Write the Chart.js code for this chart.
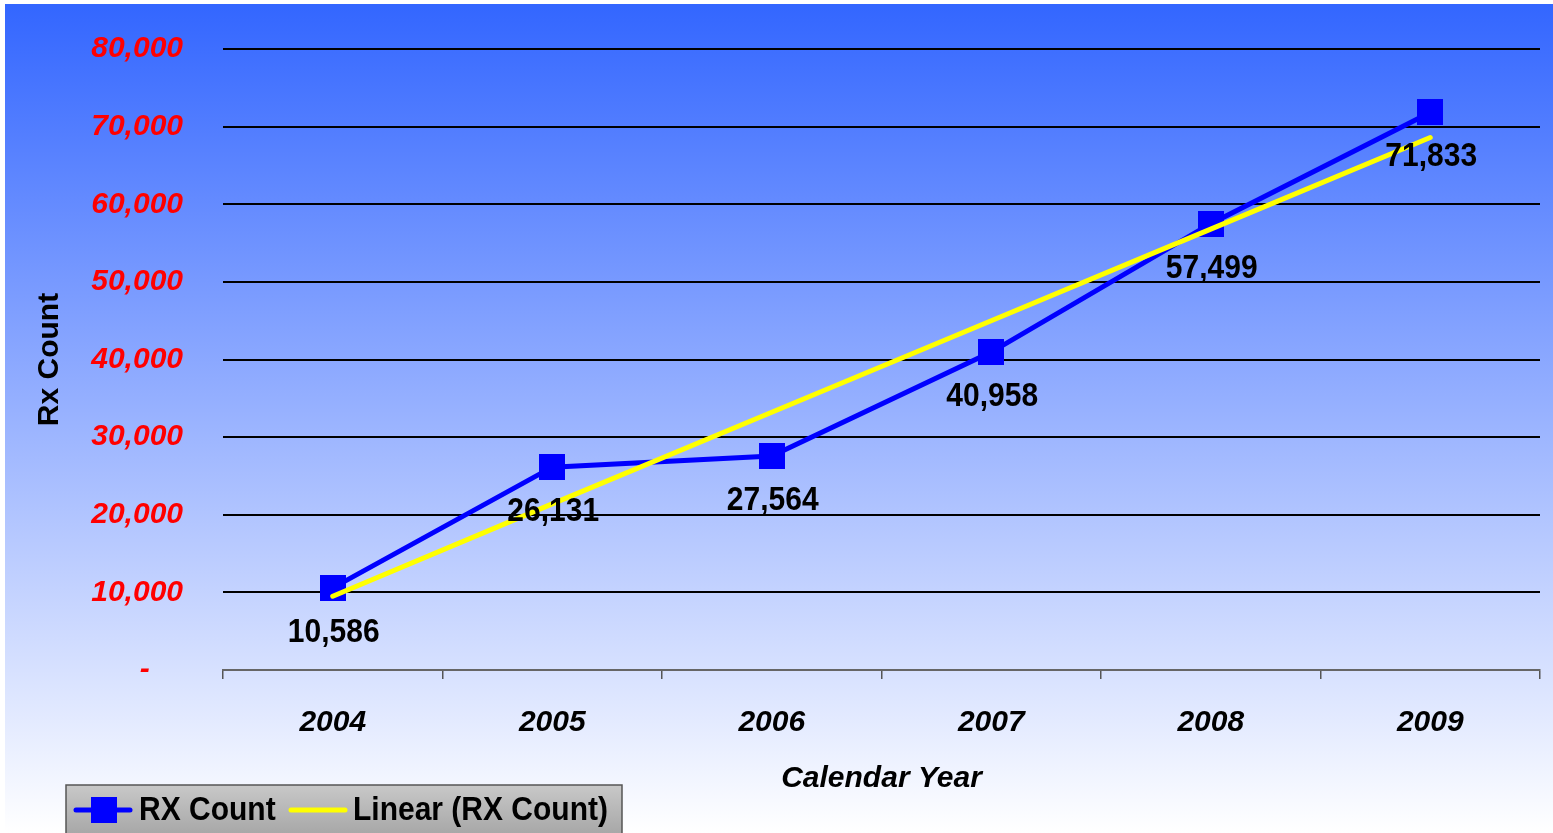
<!DOCTYPE html>
<html>
<head>
<meta charset="utf-8">
<script src="https://cdn.jsdelivr.net/npm/chart.js@4"></script>
<style>
  html, body { margin: 0; padding: 0; background: #ffffff; }
  canvas { display: block; }
</style>
</head>
<body>
<canvas id="c" width="1553" height="833"></canvas>
<script>
const years = ['2004', '2005', '2006', '2007', '2008', '2009'];
const rxCount = [10586, 26131, 27564, 40958, 57499, 71833];
const linearTrend = [9500, 21400, 33200, 45000, 56800, 68600];
const yTickValues = [0, 10000, 20000, 30000, 40000, 50000, 60000, 70000, 80000];
const seriesNames = ['RX Count', 'Linear (RX Count)'];
const axisTitles = { x: 'Calendar Year', y: 'Rx Count' };

const FONT = '"Liberation Sans", Arial, Helvetica, sans-serif';

// square marker image (26 x 26)
const squareMarker = document.createElement('canvas');
squareMarker.width = 26; squareMarker.height = 26;
(function () {
  const c = squareMarker.getContext('2d');
  c.fillStyle = '#0000ff';
  c.fillRect(0, 0, 26, 26);
})();

const bgPlugin = {
  id: 'bg',
  beforeDraw(chart) {
    const ctx = chart.ctx;
    ctx.save();
    ctx.fillStyle = '#ffffff';
    ctx.fillRect(0, 0, chart.width, chart.height);
    const g = ctx.createLinearGradient(0, 4, 0, chart.height);
    g.addColorStop(0, '#3366ff');
    g.addColorStop(1, '#ffffff');
    ctx.fillStyle = g;
    ctx.fillRect(5, 4, chart.width - 5, chart.height - 4);
    ctx.restore();
  }
};

function tallText(ctx, text, x, y, sy) {
  ctx.save();
  ctx.translate(x, y);
  ctx.scale(1, sy);
  ctx.fillText(text, 0, 0);
  ctx.restore();
}

const labelPlugin = {
  id: 'dataLabels',
  afterDatasetsDraw(chart) {
    const ctx = chart.ctx;
    const meta = chart.getDatasetMeta(0);
    ctx.save();
    ctx.font = 'bold 30px ' + FONT;
    ctx.fillStyle = '#000000';
    ctx.textAlign = 'center';
    ctx.textBaseline = 'middle';
    meta.data.forEach((pt, i) => {
      tallText(ctx, rxCount[i].toLocaleString('en-US'), pt.x + 1, pt.y + 45, 1.08);
    });
    ctx.restore();
  }
};

const legendPlugin = {
  id: 'customLegend',
  afterDraw(chart) {
    const ctx = chart.ctx;
    ctx.save();
    const x = 66, y = 785, w = 556, h = 60;
    const g = ctx.createLinearGradient(0, y, 0, y + 48);
    g.addColorStop(0, '#c8c8c8');
    g.addColorStop(1, '#a8a8a8');
    ctx.fillStyle = g;
    ctx.fillRect(x, y, w, h);
    ctx.strokeStyle = '#555555';
    ctx.lineWidth = 1.5;
    ctx.strokeRect(x, y, w, h);
    const cy = 810;
    ctx.strokeStyle = '#0000ff';
    ctx.lineWidth = 5;
    ctx.lineCap = 'round';
    ctx.beginPath(); ctx.moveTo(76, cy); ctx.lineTo(130, cy); ctx.stroke();
    ctx.fillStyle = '#0000ff';
    ctx.fillRect(91, cy - 13, 26, 26);
    ctx.font = 'bold 30px ' + FONT;
    ctx.fillStyle = '#000000';
    ctx.textAlign = 'left';
    ctx.textBaseline = 'middle';
    tallText(ctx, chart.data.datasets[0].label, 139, cy + 1, 1.08);
    ctx.strokeStyle = '#ffff00';
    ctx.beginPath(); ctx.moveTo(291, cy); ctx.lineTo(345, cy); ctx.stroke();
    tallText(ctx, chart.data.datasets[1].label, 353, cy + 1, 1.08);
    ctx.restore();
  }
};

new Chart(document.getElementById('c'), {
  type: 'line',
  data: {
    labels: years,
    datasets: [
      {
        label: seriesNames[0],
        data: rxCount,
        borderColor: '#0000ff',
        backgroundColor: '#0000ff',
        borderWidth: 5,
        pointStyle: squareMarker,
        pointRadius: 13,
        pointHoverRadius: 13,
        pointBorderWidth: 0,
        tension: 0,
        order: 1
      },
      {
        label: seriesNames[1],
        data: linearTrend,
        borderColor: '#ffff00',
        backgroundColor: '#ffff00',
        borderWidth: 5,
        borderCapStyle: 'round',
        pointRadius: 0,
        pointHoverRadius: 0,
        tension: 0,
        order: 0
      }
    ]
  },
  options: {
    responsive: false,
    animation: false,
    events: [],
    layout: { padding: { left: 5, top: 49, right: 13, bottom: 0 } },
    plugins: {
      legend: { display: false },
      tooltip: { enabled: false }
    },
    scales: {
      x: {
        type: 'category',
        offset: true,
        grid: {
          offset: true,
          drawOnChartArea: false,
          drawTicks: true,
          tickLength: 9,
          color: '#555555',
          lineWidth: 1.5
        },
        border: { display: true, color: '#666666', width: 2 },
        ticks: {
          color: '#000000',
          font: { family: FONT, size: 30, weight: 'bold', style: 'italic' },
          padding: 26,
          maxRotation: 0
        },
        title: {
          display: true,
          text: axisTitles.x,
          color: '#000000',
          font: { family: FONT, size: 30, weight: 'bold', style: 'italic' },
          padding: { top: 0, bottom: 36 }
        },
        afterFit(scale) {
          scale.height = 163;
          scale.paddingLeft = 0; scale.paddingRight = 0;
          scale.paddingTop = 0; scale.paddingBottom = 0;
        }
      },
      y: {
        min: 0,
        max: 80000,
        afterBuildTicks(scale) { scale.ticks = yTickValues.map(v => ({ value: v })); },
        grid: {
          drawTicks: false,
          color: (c) => c.tick && c.tick.value === 0 ? 'rgba(0,0,0,0)' : '#000000',
          lineWidth: 2
        },
        border: { display: false },
        ticks: {
          color: '#ff0000',
          font: { family: FONT, size: 30, weight: 'bold', style: 'italic' },
          padding: 40,
          callback: (v) => v === 0 ? '-    ' : Number(v).toLocaleString('en-US')
        },
        title: {
          display: true,
          text: axisTitles.y,
          color: '#000000',
          font: { family: FONT, size: 30, weight: 'bold' },
          padding: { top: 27, bottom: 0 }
        },
        afterFit(scale) {
          scale.width = 218;
          scale.paddingLeft = 0; scale.paddingRight = 0;
          scale.paddingTop = 0; scale.paddingBottom = 0;
        }
      }
    }
  },
  plugins: [bgPlugin, labelPlugin, legendPlugin]
});
</script>
</body>
</html>
